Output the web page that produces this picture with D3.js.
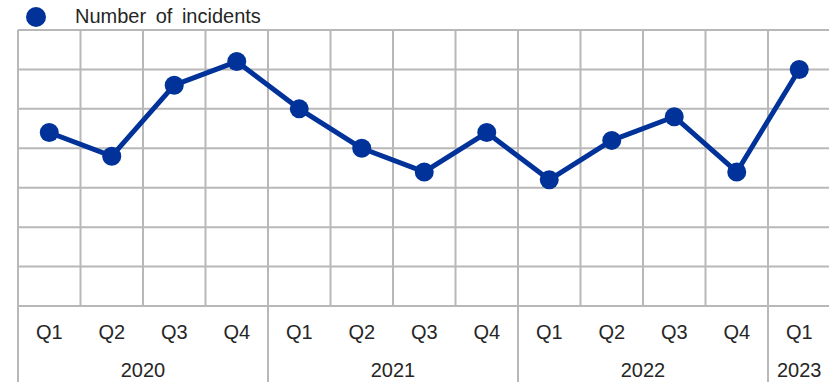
<!DOCTYPE html>
<html>
<head>
<meta charset="utf-8">
<script src="https://cdn.jsdelivr.net/npm/d3@7"></script>
<style>
  html, body { margin: 0; padding: 0; background: #fff; }
  svg { display: block; font-family: "Liberation Sans", Arial, sans-serif; }
</style>
</head>
<body>
<script>
// Chart data.
var quarters = ["Q1", "Q2", "Q3", "Q4", "Q1", "Q2", "Q3", "Q4", "Q1", "Q2", "Q3", "Q4", "Q1"];
var years = ["2020", "2020", "2020", "2020", "2021", "2021", "2021", "2021", "2022", "2022", "2022", "2022", "2023"];
var incidents = [22, 19, 28, 31, 25, 20, 17, 22, 16, 21, 24, 17, 30];
var yTicks = [0, 5, 10, 15, 20, 25, 30, 35];
var seriesName = "Number of incidents";

var width = 829, height = 382;
var plotLeft = 18, plotRight = 830.5, plotTop = 30, plotBottom = 306;
var blue = "#003299", grid = "#b8b8b8", ink = "#262626";

var svg = d3.select("body").append("svg")
    .attr("width", width)
    .attr("height", height);

var keys = d3.range(incidents.length);

var x = d3.scaleBand()
    .domain(keys)
    .range([plotLeft, plotRight]);

var y = d3.scaleLinear()
    .domain([0, 35])
    .range([plotBottom, plotTop]);

// x position of a category boundary (the last one is the right edge).
function edge(i) {
    return i < incidents.length ? x(i) : plotRight;
}

// Horizontal grid lines.
svg.append("g")
    .selectAll("line")
    .data(yTicks)
    .join("line")
    .attr("x1", plotLeft)
    .attr("x2", plotRight)
    .attr("y1", d => y(d))
    .attr("y2", d => y(d))
    .attr("stroke", grid)
    .attr("stroke-width", 2);

// Vertical grid lines at every category boundary.
svg.append("g")
    .selectAll("line")
    .data(keys.concat([incidents.length]))
    .join("line")
    .attr("x1", edge)
    .attr("x2", edge)
    .attr("y1", plotTop)
    .attr("y2", plotBottom)
    .attr("stroke", grid)
    .attr("stroke-width", 2);

// Year separators below the plot.
var yearGroups = d3.groups(keys, i => years[i]);
var separators = yearGroups.map(g => g[1][0]).concat([incidents.length]);
svg.append("g")
    .selectAll("line")
    .data(separators)
    .join("line")
    .attr("x1", edge)
    .attr("x2", edge)
    .attr("y1", plotBottom)
    .attr("y2", height)
    .attr("stroke", grid)
    .attr("stroke-width", 2);

// Quarter labels.
svg.append("g")
    .selectAll("text")
    .data(keys)
    .join("text")
    .attr("x", d => x(d) + x.bandwidth() / 2)
    .attr("y", 339)
    .attr("text-anchor", "middle")
    .attr("font-size", 20)
    .attr("fill", ink)
    .text(d => quarters[d]);

// Year labels, centred under their quarters.
svg.append("g")
    .selectAll("text")
    .data(yearGroups)
    .join("text")
    .attr("x", d => (x(d[1][0]) + x(d[1][d[1].length - 1]) + x.bandwidth()) / 2)
    .attr("y", 377)
    .attr("text-anchor", "middle")
    .attr("font-size", 20)
    .attr("fill", ink)
    .text(d => d[0]);

// The line and its markers.
var line = d3.line()
    .x(d => x(d) + x.bandwidth() / 2)
    .y(d => y(incidents[d]));

svg.append("path")
    .datum(keys)
    .attr("d", line)
    .attr("fill", "none")
    .attr("stroke", blue)
    .attr("stroke-width", 5)
    .attr("stroke-linejoin", "round");

svg.append("g")
    .selectAll("circle")
    .data(keys)
    .join("circle")
    .attr("cx", d => x(d) + x.bandwidth() / 2)
    .attr("cy", d => y(incidents[d]))
    .attr("r", 9.5)
    .attr("fill", blue);

// Legend.
svg.append("circle")
    .attr("cx", 36)
    .attr("cy", 17)
    .attr("r", 10)
    .attr("fill", blue);

svg.append("text")
    .attr("x", 75)
    .attr("y", 23)
    .attr("font-size", 20)
    .attr("word-spacing", 4)
    .attr("fill", ink)
    .text(seriesName);
</script>
</body>
</html>
